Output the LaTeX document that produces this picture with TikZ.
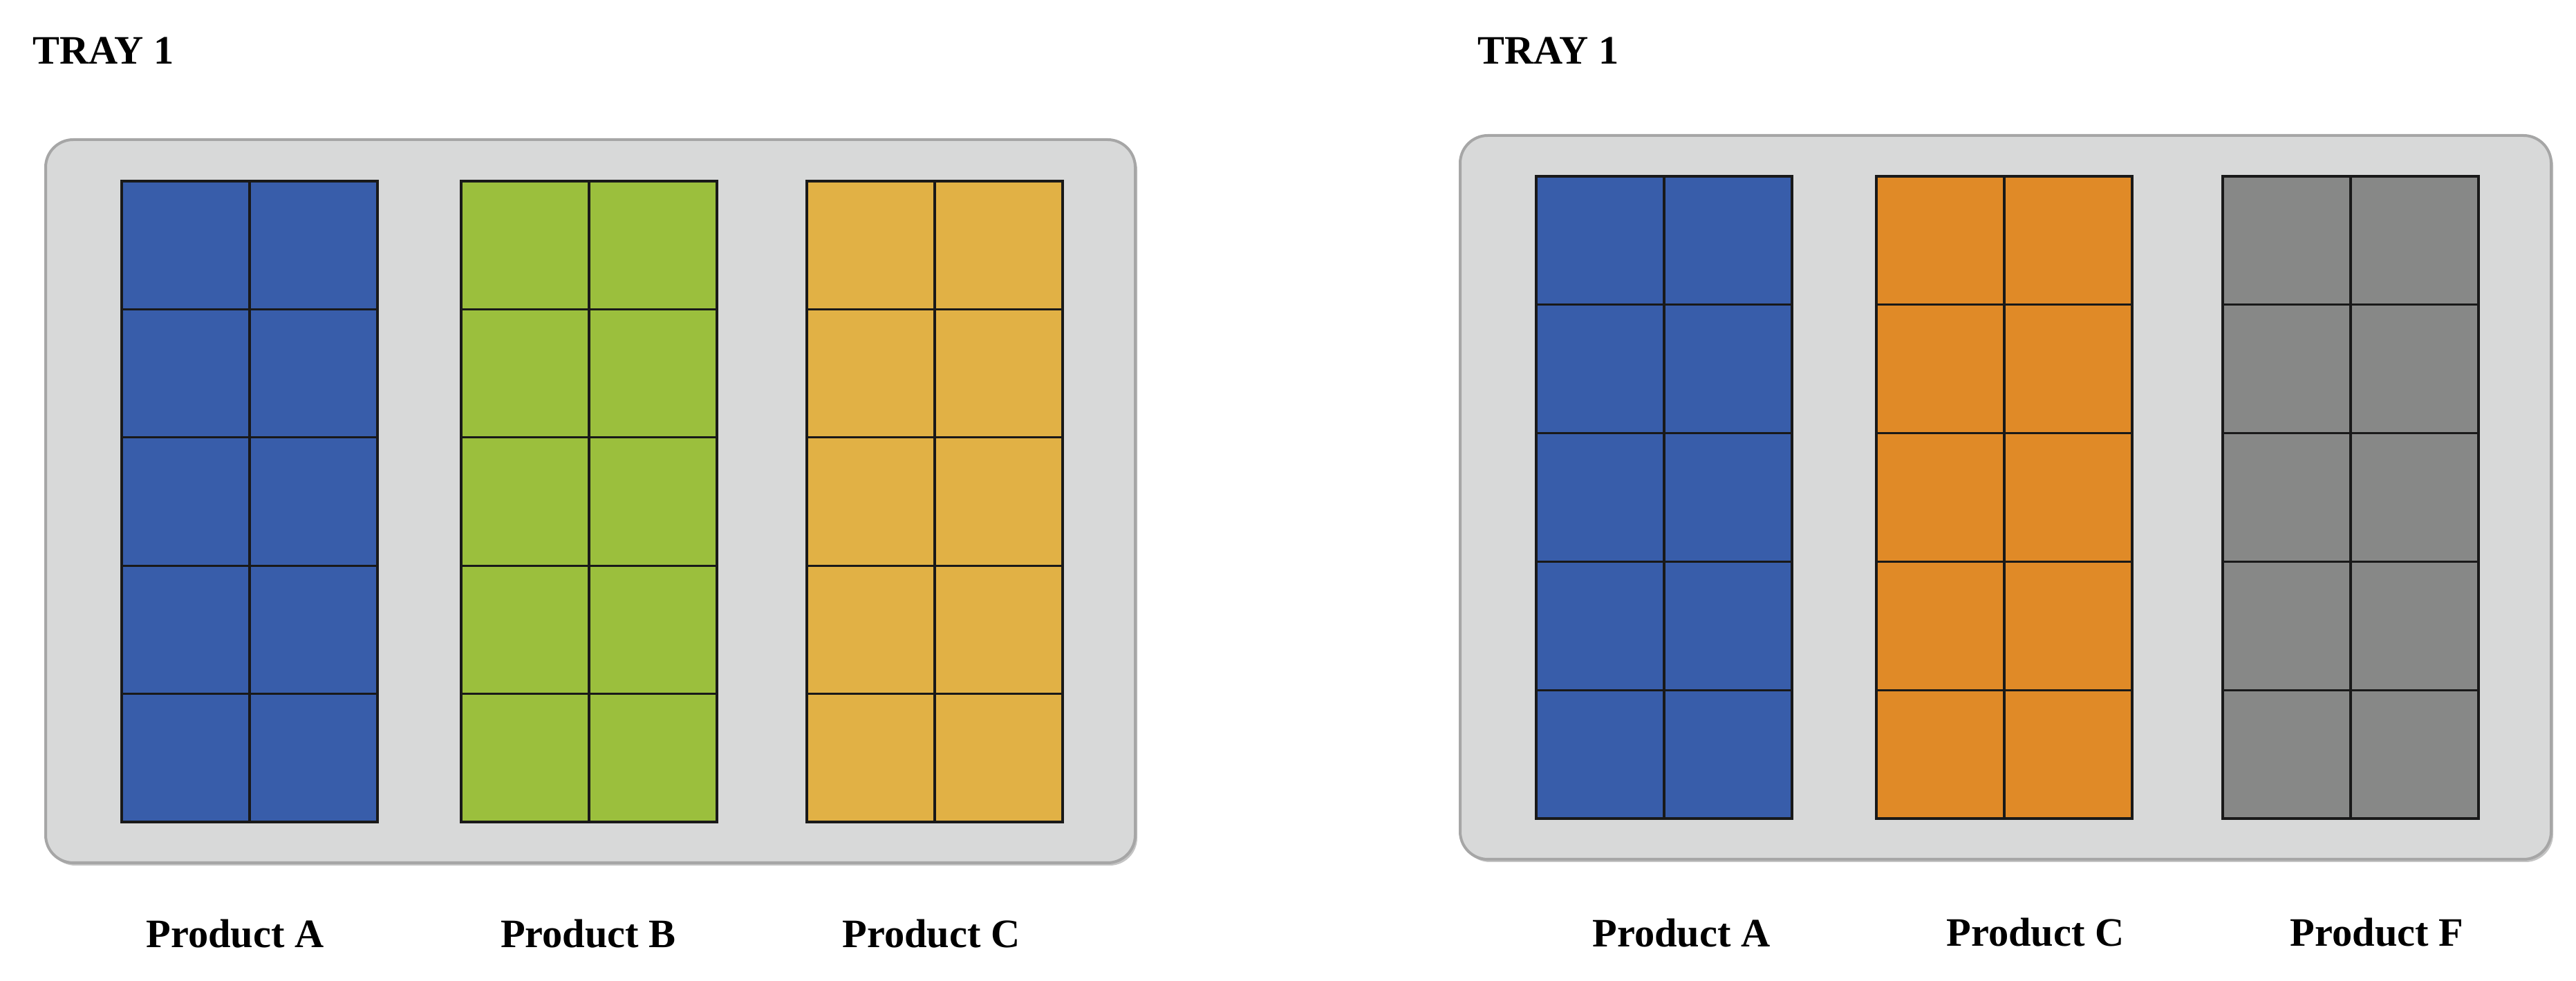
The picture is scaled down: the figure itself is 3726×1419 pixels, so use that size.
\documentclass[tikz,border=0pt]{standalone}
\usepackage{fontspec}
\setmainfont{Liberation Serif}
\definecolor{pblue}{HTML}{385DAA}
\definecolor{pgreen}{HTML}{9BBF3D}
\definecolor{pyellow}{HTML}{E1B145}
\definecolor{porange}{HTML}{E08A27}
\definecolor{pgray}{HTML}{878887}
\definecolor{trayfill}{HTML}{D8D9D9}
\definecolor{trayedge}{HTML}{A6A6A6}
\definecolor{trayshadow}{HTML}{C4C4C4}
\tikzset{
  tray/.style={fill=trayfill, draw=trayedge, line width=1pt, rounded corners=10pt},
  trayshade/.style={fill=trayshadow, rounded corners=10pt},
  cellgrid/.style={draw=black!90, line width=0.8pt},
  traytitle/.style={font=\fontsize{14.6}{18}\selectfont\bfseries, inner sep=0pt, anchor=base west},
  plabel/.style={font=\fontsize{14.6}{18}\selectfont\bfseries, inner sep=0pt, anchor=base},
}
\newcommand\prodgrid[4]{% #1 left x, #2 top y, #3 bottom y, #4 colour
  \draw[cellgrid, fill=#4] (#1,#2) rectangle (#1+370,#3);
  \draw[cellgrid] (#1+185,#2) -- (#1+185,#3);
  \foreach \k in {1,...,4}
    \draw[cellgrid] (#1,{#2+\k*(#3-#2)/5}) -- (#1+370,{#2+\k*(#3-#2)/5});
}
\begin{document}
\begin{tikzpicture}[x=0.25pt, y=-0.25pt]
\useasboundingbox (0,0) rectangle (3726,1419);

% ---------- left tray ----------
\node[traytitle] (titleL) at (47,93) {TRAY 1};
\fill[trayshade] (69,206) rectangle (1645,1252);
\draw[tray] (66,202) rectangle (1642,1248);
\prodgrid{176}{262}{1189}{pblue}
\prodgrid{667}{262}{1189}{pgreen}
\prodgrid{1167}{262}{1189}{pyellow}
\node[plabel] (lA) at (340,1371) {Product A};
\node[plabel] (lB) at (851,1371) {Product B};
\node[plabel] (lC) at (1347,1371) {Product C};

% ---------- right tray ----------
\node[traytitle] (titleR) at (2137,93) {TRAY 1};
\fill[trayshade] (2115,200) rectangle (3693,1247);
\draw[tray] (2112,196) rectangle (3690,1243);
\prodgrid{2222}{255}{1184}{pblue}
\prodgrid{2714}{255}{1184}{porange}
\prodgrid{3215}{255}{1184}{pgray}
\node[plabel] (rA) at (2432,1370) {Product A};
\node[plabel] (rC) at (2944,1369) {Product C};
\node[plabel] (rF) at (3438,1369) {Product F};
\end{tikzpicture}
\end{document}
